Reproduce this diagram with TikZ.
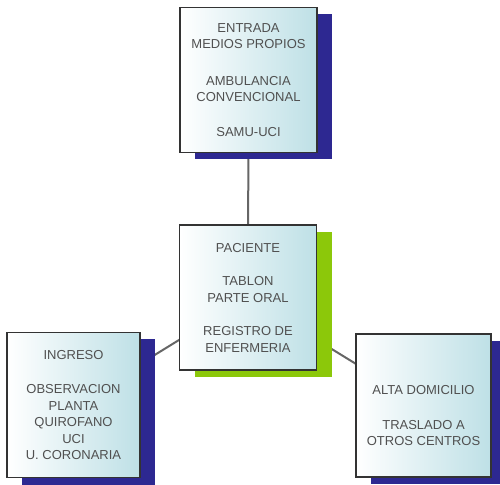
\documentclass[tikz,border=0pt]{standalone}
\usepackage{fontspec}
\setmainfont{Liberation Sans}
\usetikzlibrary{shadows,backgrounds}
\definecolor{cajaazul}{RGB}{190,224,230}
\definecolor{sombraazul}{RGB}{45,40,145}
\definecolor{sombraverde}{RGB}{140,200,10}
\definecolor{texto}{RGB}{80,80,80}
\tikzset{
	caja/.style={draw=black!80, line width=1.2pt, left color=white, middle color=white, right color=cajaazul,
		minimum width=137pt, minimum height=145pt, inner sep=0pt, align=center, text=texto,
		font=\fontsize{13}{16.5}\selectfont},
	sombra/.style={general shadow={fill=#1, shadow xshift=15pt, shadow yshift=-7pt}},
	enlace/.style={draw=black!60, line width=2pt}
}
\begin{document}
\begin{tikzpicture}[x=1pt,y=1pt]
	\useasboundingbox (0,0) rectangle (500,484);
	\node[caja, sombra=sombraazul] (entrada) at (248.5,404) {ENTRADA\\MEDIOS PROPIOS\\[20pt]AMBULANCIA\\CONVENCIONAL\\[18pt]SAMU-UCI};
	\node[caja, sombra=sombraverde] (paciente) at (248,186.5) {PACIENTE\\[17pt]TABLON\\PARTE ORAL\\[17pt]REGISTRO DE\\ENFERMERIA};
	\node[caja, sombra=sombraazul, minimum width=133pt] (ingreso) at (73.5,79) {INGRESO\\[18pt]OBSERVACION\\PLANTA\\QUIROFANO\\UCI\\U. CORONARIA};
	\node[caja, sombra=sombraazul, minimum width=135pt, minimum height=143pt, text height=81pt, text depth=0pt] (alta) at (423.5,78.5) {ALTA DOMICILIO\\[18pt]TRASLADO A\\OTROS CENTROS};
	\begin{scope}[on background layer]
		\draw[enlace] (entrada.center) -- (paciente.center);
		\draw[enlace] (paciente.center) -- (ingreso.center);
		\draw[enlace] (paciente.center) -- (alta.center);
	\end{scope}
\end{tikzpicture}
\end{document}
